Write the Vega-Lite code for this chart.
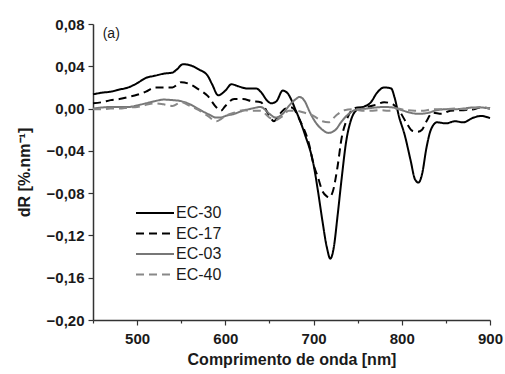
{
  "$schema": "https://vega.github.io/schema/vega-lite/v6.json",
  "autosize": "none",
  "width": 397,
  "height": 296,
  "padding": {"left": 93, "top": 24, "right": 15, "bottom": 54},
  "background": "white",
  "config": {
    "view": {"stroke": null},
    "font": "Liberation Sans",
    "axis": {
      "domainColor": "#333333",
      "domainWidth": 1.5,
      "tickColor": "#333333",
      "tickWidth": 1.2,
      "grid": false,
      "labelFont": "Liberation Sans",
      "labelFontWeight": "bold",
      "labelFontSize": 15,
      "labelColor": "#1a1a1a",
      "titleFont": "Liberation Sans",
      "titleFontWeight": "bold",
      "titleFontSize": 16,
      "titleColor": "#1a1a1a"
    }
  },
  "datasets": {
    "spectra": [
      {"s":"EC-30","x":450,"y":0.0135},{"s":"EC-30","x":460,"y":0.015},{"s":"EC-30","x":470,"y":0.016},{"s":"EC-30","x":480,"y":0.018},{"s":"EC-30","x":490,"y":0.020},{"s":"EC-30","x":500,"y":0.024},{"s":"EC-30","x":510,"y":0.029},{"s":"EC-30","x":520,"y":0.031},{"s":"EC-30","x":530,"y":0.033},{"s":"EC-30","x":540,"y":0.034},{"s":"EC-30","x":545,"y":0.037},{"s":"EC-30","x":552,"y":0.042},{"s":"EC-30","x":560,"y":0.041},{"s":"EC-30","x":570,"y":0.037},{"s":"EC-30","x":580,"y":0.031},{"s":"EC-30","x":585,"y":0.023},{"s":"EC-30","x":592,"y":0.0125},{"s":"EC-30","x":600,"y":0.017},{"s":"EC-30","x":607,"y":0.023},{"s":"EC-30","x":615,"y":0.021},{"s":"EC-30","x":625,"y":0.019},{"s":"EC-30","x":635,"y":0.019},{"s":"EC-30","x":640,"y":0.016},{"s":"EC-30","x":648,"y":0.007},{"s":"EC-30","x":652,"y":0.005},{"s":"EC-30","x":658,"y":0.007},{"s":"EC-30","x":665,"y":0.017},{"s":"EC-30","x":670,"y":0.015},{"s":"EC-30","x":680,"y":-0.002},{"s":"EC-30","x":690,"y":-0.024},{"s":"EC-30","x":700,"y":-0.053},{"s":"EC-30","x":705,"y":-0.078},{"s":"EC-30","x":710,"y":-0.106},{"s":"EC-30","x":715,"y":-0.131},{"s":"EC-30","x":719,"y":-0.142},{"s":"EC-30","x":723,"y":-0.131},{"s":"EC-30","x":727,"y":-0.103},{"s":"EC-30","x":732,"y":-0.065},{"s":"EC-30","x":737,"y":-0.031},{"s":"EC-30","x":742,"y":-0.012},{"s":"EC-30","x":748,"y":-0.002},{"s":"EC-30","x":755,"y":0.001},{"s":"EC-30","x":765,"y":0.006},{"s":"EC-30","x":772,"y":0.015},{"s":"EC-30","x":780,"y":0.020},{"s":"EC-30","x":788,"y":0.019},{"s":"EC-30","x":792,"y":0.010},{"s":"EC-30","x":797,"y":-0.008},{"s":"EC-30","x":803,"y":-0.024},{"s":"EC-30","x":810,"y":-0.049},{"s":"EC-30","x":815,"y":-0.067},{"s":"EC-30","x":819,"y":-0.070},{"s":"EC-30","x":823,"y":-0.062},{"s":"EC-30","x":828,"y":-0.037},{"s":"EC-30","x":833,"y":-0.020},{"s":"EC-30","x":840,"y":-0.013},{"s":"EC-30","x":850,"y":-0.014},{"s":"EC-30","x":860,"y":-0.012},{"s":"EC-30","x":870,"y":-0.013},{"s":"EC-30","x":880,"y":-0.009},{"s":"EC-30","x":890,"y":-0.007},{"s":"EC-30","x":900,"y":-0.009},

      {"s":"EC-17","x":450,"y":0.005},{"s":"EC-17","x":460,"y":0.006},{"s":"EC-17","x":470,"y":0.008},{"s":"EC-17","x":480,"y":0.009},{"s":"EC-17","x":490,"y":0.011},{"s":"EC-17","x":500,"y":0.013},{"s":"EC-17","x":510,"y":0.016},{"s":"EC-17","x":520,"y":0.020},{"s":"EC-17","x":530,"y":0.020},{"s":"EC-17","x":540,"y":0.020},{"s":"EC-17","x":550,"y":0.025},{"s":"EC-17","x":560,"y":0.023},{"s":"EC-17","x":570,"y":0.018},{"s":"EC-17","x":580,"y":0.012},{"s":"EC-17","x":590,"y":0.001},{"s":"EC-17","x":595,"y":-0.002},{"s":"EC-17","x":600,"y":0.0025},{"s":"EC-17","x":610,"y":0.009},{"s":"EC-17","x":620,"y":0.009},{"s":"EC-17","x":630,"y":0.007},{"s":"EC-17","x":640,"y":0.006},{"s":"EC-17","x":650,"y":-0.007},{"s":"EC-17","x":655,"y":-0.012},{"s":"EC-17","x":660,"y":-0.007},{"s":"EC-17","x":668,"y":0.000},{"s":"EC-17","x":675,"y":0.001},{"s":"EC-17","x":685,"y":-0.012},{"s":"EC-17","x":695,"y":-0.034},{"s":"EC-17","x":700,"y":-0.053},{"s":"EC-17","x":705,"y":-0.065},{"s":"EC-17","x":710,"y":-0.078},{"s":"EC-17","x":715,"y":-0.083},{"s":"EC-17","x":718,"y":-0.084},{"s":"EC-17","x":722,"y":-0.078},{"s":"EC-17","x":727,"y":-0.056},{"s":"EC-17","x":732,"y":-0.027},{"s":"EC-17","x":737,"y":-0.012},{"s":"EC-17","x":743,"y":-0.002},{"s":"EC-17","x":750,"y":0.001},{"s":"EC-17","x":760,"y":0.0015},{"s":"EC-17","x":770,"y":0.0035},{"s":"EC-17","x":780,"y":0.006},{"s":"EC-17","x":790,"y":0.004},{"s":"EC-17","x":797,"y":-0.002},{"s":"EC-17","x":805,"y":-0.013},{"s":"EC-17","x":812,"y":-0.021},{"s":"EC-17","x":818,"y":-0.022},{"s":"EC-17","x":823,"y":-0.020},{"s":"EC-17","x":828,"y":-0.012},{"s":"EC-17","x":835,"y":-0.004},{"s":"EC-17","x":845,"y":-0.005},{"s":"EC-17","x":855,"y":-0.002},{"s":"EC-17","x":870,"y":-0.0015},{"s":"EC-17","x":880,"y":-0.001},{"s":"EC-17","x":890,"y":0.001},{"s":"EC-17","x":900,"y":0.0},

      {"s":"EC-03","x":450,"y":0.0},{"s":"EC-03","x":460,"y":0.001},{"s":"EC-03","x":470,"y":0.0015},{"s":"EC-03","x":480,"y":0.0015},{"s":"EC-03","x":490,"y":0.0015},{"s":"EC-03","x":500,"y":0.003},{"s":"EC-03","x":510,"y":0.005},{"s":"EC-03","x":520,"y":0.007},{"s":"EC-03","x":530,"y":0.0085},{"s":"EC-03","x":540,"y":0.008},{"s":"EC-03","x":550,"y":0.007},{"s":"EC-03","x":560,"y":0.004},{"s":"EC-03","x":570,"y":-0.0006},{"s":"EC-03","x":580,"y":-0.005},{"s":"EC-03","x":590,"y":-0.0085},{"s":"EC-03","x":595,"y":-0.0085},{"s":"EC-03","x":600,"y":-0.007},{"s":"EC-03","x":610,"y":-0.005},{"s":"EC-03","x":620,"y":-0.002},{"s":"EC-03","x":630,"y":0.0},{"s":"EC-03","x":640,"y":0.0015},{"s":"EC-03","x":650,"y":-0.005},{"s":"EC-03","x":657,"y":-0.0085},{"s":"EC-03","x":665,"y":-0.005},{"s":"EC-03","x":672,"y":0.0025},{"s":"EC-03","x":680,"y":0.009},{"s":"EC-03","x":684,"y":0.011},{"s":"EC-03","x":690,"y":0.007},{"s":"EC-03","x":695,"y":-0.002},{"s":"EC-03","x":700,"y":-0.010},{"s":"EC-03","x":710,"y":-0.020},{"s":"EC-03","x":717,"y":-0.023},{"s":"EC-03","x":725,"y":-0.020},{"s":"EC-03","x":732,"y":-0.012},{"s":"EC-03","x":740,"y":-0.005},{"s":"EC-03","x":750,"y":-0.0006},{"s":"EC-03","x":760,"y":0.0},{"s":"EC-03","x":770,"y":0.001},{"s":"EC-03","x":780,"y":0.0015},{"s":"EC-03","x":790,"y":0.001},{"s":"EC-03","x":800,"y":-0.0015},{"s":"EC-03","x":810,"y":-0.004},{"s":"EC-03","x":820,"y":-0.005},{"s":"EC-03","x":830,"y":-0.004},{"s":"EC-03","x":840,"y":-0.0015},{"s":"EC-03","x":850,"y":-0.0006},{"s":"EC-03","x":860,"y":-0.0006},{"s":"EC-03","x":870,"y":0.0},{"s":"EC-03","x":880,"y":0.001},{"s":"EC-03","x":890,"y":0.001},{"s":"EC-03","x":900,"y":0.0},

      {"s":"EC-40","x":450,"y":-0.0006},{"s":"EC-40","x":460,"y":-0.0006},{"s":"EC-40","x":470,"y":0.0},{"s":"EC-40","x":480,"y":0.0},{"s":"EC-40","x":490,"y":0.001},{"s":"EC-40","x":500,"y":0.0015},{"s":"EC-40","x":510,"y":0.0035},{"s":"EC-40","x":520,"y":0.005},{"s":"EC-40","x":530,"y":0.004},{"s":"EC-40","x":540,"y":0.0025},{"s":"EC-40","x":550,"y":0.006},{"s":"EC-40","x":560,"y":0.0025},{"s":"EC-40","x":570,"y":-0.0015},{"s":"EC-40","x":580,"y":-0.007},{"s":"EC-40","x":590,"y":-0.012},{"s":"EC-40","x":595,"y":-0.010},{"s":"EC-40","x":600,"y":-0.007},{"s":"EC-40","x":610,"y":-0.004},{"s":"EC-40","x":620,"y":-0.0015},{"s":"EC-40","x":630,"y":-0.002},{"s":"EC-40","x":640,"y":-0.002},{"s":"EC-40","x":650,"y":-0.0085},{"s":"EC-40","x":657,"y":-0.011},{"s":"EC-40","x":665,"y":-0.007},{"s":"EC-40","x":672,"y":-0.002},{"s":"EC-40","x":680,"y":-0.002},{"s":"EC-40","x":690,"y":-0.004},{"s":"EC-40","x":700,"y":-0.007},{"s":"EC-40","x":710,"y":-0.012},{"s":"EC-40","x":717,"y":-0.013},{"s":"EC-40","x":725,"y":-0.007},{"s":"EC-40","x":735,"y":-0.0015},{"s":"EC-40","x":745,"y":-0.0006},{"s":"EC-40","x":755,"y":-0.002},{"s":"EC-40","x":765,"y":-0.002},{"s":"EC-40","x":775,"y":-0.0015},{"s":"EC-40","x":785,"y":-0.002},{"s":"EC-40","x":795,"y":0.0},{"s":"EC-40","x":805,"y":-0.0015},{"s":"EC-40","x":815,"y":-0.002},{"s":"EC-40","x":825,"y":-0.002},{"s":"EC-40","x":835,"y":-0.0006},{"s":"EC-40","x":845,"y":-0.0006},{"s":"EC-40","x":860,"y":0.0},{"s":"EC-40","x":875,"y":-0.0006},{"s":"EC-40","x":890,"y":0.0015},{"s":"EC-40","x":900,"y":0.0}
    ],
    "labels": [{"x": 461, "y": 0.0706, "t": "(a)"}]
  },
  "layer": [
    {
      "data": {"name": "spectra"},
      "mark": {"type": "line", "strokeWidth": 2, "interpolate": "monotone"},
      "encoding": {
        "x": {
          "field": "x", "type": "quantitative",
          "scale": {"domain": [450, 900], "nice": false, "zero": false},
          "axis": {
            "title": "Comprimento de onda [nm]",
            "values": [450, 500, 550, 600, 650, 700, 750, 800, 850, 900],
            "labelExpr": "datum.value % 100 == 0 ? datum.label : ''",
            "tickSize": {"condition": {"test": "datum.value % 100 == 0", "value": 5}, "value": 3},
            "labelPadding": 6,
            "titlePadding": 5,
            "labelFlush": false
          }
        },
        "y": {
          "field": "y", "type": "quantitative",
          "scale": {"domain": [-0.2, 0.08], "nice": false, "zero": false},
          "axis": {
            "title": "dR [%.nm⁻¹]",
            "values": [-0.2, -0.18, -0.16, -0.14, -0.12, -0.1, -0.08, -0.06, -0.04, -0.02, 0, 0.02, 0.04, 0.06, 0.08],
            "labelExpr": "round(datum.value * 100) % 4 == 0 ? replace(format(datum.value, '.2f'), '.', ',') : ''",
            "tickSize": {"condition": {"test": "round(datum.value * 100) % 4 == 0", "value": 5}, "value": 3},
            "labelPadding": 4,
            "titlePadding": 14,
            "labelFlush": false
          }
        },
        "color": {
          "field": "s", "type": "nominal",
          "scale": {"domain": ["EC-30", "EC-17", "EC-03", "EC-40"], "range": ["#000000", "#000000", "#777777", "#888888"]},
          "legend": {
            "title": null,
            "orient": "none",
            "legendX": 42,
            "legendY": 179,
            "padding": 0,
            "symbolType": "stroke",
            "symbolSize": 1444,
            "symbolStrokeWidth": 2,
            "clipHeight": 20,
            "rowPadding": 0.5,
            "labelFont": "Liberation Sans",
            "labelFontSize": 16,
            "labelColor": "#1a1a1a",
            "labelOffset": 1
          }
        },
        "strokeDash": {
          "field": "s", "type": "nominal",
          "scale": {"domain": ["EC-30", "EC-17", "EC-03", "EC-40"], "range": [[1, 0], [8, 5], [1, 0], [8, 5]]},
          "legend": {
            "title": null,
            "orient": "none",
            "legendX": 42,
            "legendY": 179,
            "padding": 0,
            "symbolType": "stroke",
            "symbolSize": 1444,
            "symbolStrokeWidth": 2,
            "clipHeight": 20,
            "rowPadding": 0.5,
            "labelFont": "Liberation Sans",
            "labelFontSize": 16,
            "labelColor": "#1a1a1a",
            "labelOffset": 1
          }
        }
      }
    },
    {
      "data": {"name": "labels"},
      "mark": {"type": "text", "align": "left", "baseline": "middle", "font": "Liberation Sans", "fontSize": 14, "color": "#1a1a1a"},
      "encoding": {
        "x": {"field": "x", "type": "quantitative"},
        "y": {"field": "y", "type": "quantitative"},
        "text": {"field": "t"}
      }
    }
  ]
}
